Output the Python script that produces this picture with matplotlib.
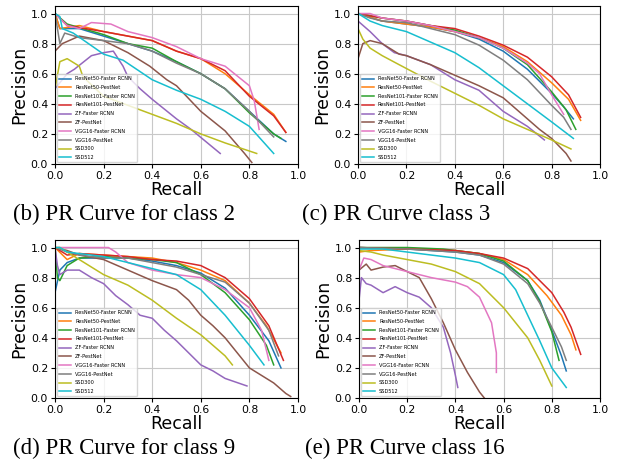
import matplotlib

matplotlib.use("Agg")
import matplotlib.pyplot as plt

METHODS = [
    "ResNet50-Faster RCNN",
    "ResNet50-PestNet",
    "ResNet101-Faster RCNN",
    "ResNet101-PestNet",
    "ZF-Faster RCNN",
    "ZF-PestNet",
    "VGG16-Faster RCNN",
    "VGG16-PestNet",
    "SSD300",
    "SSD512",
]

# class 2
CLASS2_RECALL = [
    [0.0, 0.02, 0.1, 0.2, 0.3, 0.4, 0.5, 0.6, 0.7, 0.8, 0.9, 0.95],
    [0.0, 0.02, 0.1, 0.2, 0.3, 0.4, 0.5, 0.6, 0.7, 0.8, 0.9, 0.95],
    [0.0, 0.05, 0.2, 0.3, 0.4, 0.5, 0.6, 0.7, 0.8, 0.9, 0.93],
    [0.0, 0.05, 0.2, 0.3, 0.4, 0.5, 0.6, 0.7, 0.8, 0.9, 0.95],
    [0.0, 0.05, 0.08, 0.15, 0.2, 0.24, 0.28, 0.3, 0.35, 0.4, 0.5, 0.56, 0.62, 0.68],
    [0.0, 0.03, 0.1, 0.2, 0.3, 0.39, 0.46, 0.5, 0.6, 0.7, 0.78, 0.81],
    [0.0, 0.05, 0.1, 0.15, 0.23, 0.3, 0.4, 0.5, 0.6, 0.7, 0.8, 0.82, 0.84],
    [0.0, 0.02, 0.04, 0.1, 0.2, 0.3, 0.4, 0.5, 0.6, 0.7, 0.8, 0.9],
    [0.0, 0.02, 0.05, 0.1, 0.115, 0.2, 0.3, 0.4, 0.5, 0.6, 0.7, 0.83],
    [0.0, 0.02, 0.03, 0.075, 0.12, 0.2, 0.28, 0.4, 0.5, 0.6, 0.7, 0.8, 0.9],
]
CLASS2_PRECISION = [
    [1.0, 0.9, 0.9, 0.85, 0.8, 0.75, 0.68, 0.6, 0.5, 0.35, 0.2, 0.15],
    [1.0, 0.9, 0.92, 0.88, 0.85, 0.82, 0.75, 0.7, 0.6, 0.46, 0.33, 0.21],
    [1.0, 0.93, 0.86, 0.8, 0.77, 0.68, 0.6, 0.5, 0.34, 0.2, 0.17],
    [1.0, 0.92, 0.88, 0.85, 0.82, 0.75, 0.7, 0.62, 0.45, 0.32, 0.21],
    [0.5, 0.6, 0.63, 0.72, 0.74, 0.75, 0.65, 0.58, 0.5, 0.43, 0.3, 0.23, 0.15, 0.07],
    [0.75, 0.8, 0.85, 0.82, 0.74, 0.65, 0.56, 0.52, 0.35, 0.22, 0.07, 0.01],
    [1.0, 0.92, 0.9, 0.94, 0.93, 0.88, 0.84, 0.78, 0.7, 0.65, 0.52, 0.42, 0.23],
    [1.0, 0.8, 0.87, 0.84, 0.82, 0.8, 0.75, 0.67, 0.6, 0.5, 0.35, 0.18],
    [0.5, 0.68, 0.7, 0.65, 0.58, 0.45, 0.39, 0.33, 0.27, 0.2, 0.14, 0.07],
    [1.0, 0.98, 0.9, 0.87, 0.82, 0.73, 0.69, 0.56, 0.49, 0.43, 0.35, 0.25, 0.07],
]

# class 3
CLASS3_RECALL = [
    [0.0, 0.1, 0.2, 0.3, 0.4, 0.5, 0.6, 0.7, 0.8, 0.85, 0.89],
    [0.0, 0.1, 0.2, 0.3, 0.4, 0.5, 0.6, 0.7, 0.8, 0.87, 0.92],
    [0.0, 0.1, 0.2, 0.3, 0.4, 0.5, 0.6, 0.7, 0.8, 0.86, 0.9],
    [0.0, 0.1, 0.2, 0.3, 0.4, 0.5, 0.6, 0.7, 0.8, 0.87, 0.92],
    [0.0, 0.05, 0.1, 0.15, 0.2, 0.3, 0.4, 0.5, 0.6, 0.7, 0.77],
    [0.0, 0.02, 0.05, 0.1, 0.17, 0.2, 0.3, 0.4, 0.5, 0.6, 0.75, 0.8, 0.86, 0.88],
    [0.0, 0.05, 0.1, 0.2, 0.3, 0.4, 0.5, 0.6, 0.7, 0.75, 0.8, 0.85],
    [0.0, 0.05, 0.1, 0.2, 0.3, 0.4, 0.5, 0.6, 0.7, 0.8, 0.85, 0.88],
    [0.0, 0.02, 0.05, 0.1, 0.17, 0.3, 0.4, 0.5, 0.6, 0.7, 0.8, 0.88],
    [0.0, 0.05, 0.1, 0.2, 0.3, 0.4, 0.5, 0.6, 0.7, 0.8, 0.89],
]
CLASS3_PRECISION = [
    [1.0, 0.95, 0.93, 0.91, 0.88, 0.83, 0.75, 0.63, 0.47, 0.38, 0.3],
    [1.0, 0.95, 0.93, 0.91, 0.88, 0.84, 0.78, 0.68, 0.54, 0.43, 0.29],
    [1.0, 0.97, 0.95, 0.92, 0.89, 0.84, 0.77, 0.66, 0.48, 0.36, 0.23],
    [1.0, 0.97, 0.95, 0.92, 0.9, 0.85, 0.79, 0.71, 0.58, 0.46, 0.31],
    [0.95, 0.88, 0.8, 0.74, 0.72, 0.66, 0.56, 0.49, 0.35, 0.25, 0.16],
    [0.7, 0.8, 0.82, 0.8, 0.73, 0.72, 0.66, 0.59, 0.52, 0.44, 0.23, 0.17, 0.07, 0.02],
    [1.0, 1.0, 0.97, 0.95, 0.92, 0.88, 0.84, 0.77, 0.67, 0.6, 0.46, 0.33],
    [1.0, 0.97, 0.95, 0.94, 0.9, 0.86, 0.79, 0.69, 0.56, 0.39, 0.31, 0.23],
    [0.9, 0.83, 0.77, 0.72, 0.66, 0.55, 0.47, 0.39, 0.3, 0.23, 0.16, 0.1],
    [1.0, 0.95, 0.92, 0.88, 0.81, 0.74, 0.64, 0.52, 0.4, 0.28, 0.17],
]

# class 9
CLASS9_RECALL = [
    [0.0, 0.02, 0.05, 0.1, 0.2, 0.3, 0.4, 0.5, 0.6, 0.7, 0.8, 0.88, 0.93],
    [0.0, 0.05, 0.1, 0.2, 0.3, 0.4, 0.5, 0.6, 0.7, 0.8, 0.87, 0.93],
    [0.0, 0.01, 0.02, 0.05, 0.1, 0.2, 0.3, 0.4, 0.5, 0.6, 0.7, 0.8, 0.87, 0.9],
    [0.0, 0.05, 0.1, 0.2, 0.3, 0.4, 0.5, 0.6, 0.7, 0.8, 0.88, 0.94],
    [0.0, 0.01, 0.02, 0.05, 0.1, 0.15, 0.2, 0.25, 0.3, 0.35, 0.4, 0.45, 0.5,
     0.55, 0.6, 0.65, 0.7, 0.79],
    [0.0, 0.05, 0.1, 0.2, 0.3, 0.4, 0.5, 0.55, 0.6, 0.65, 0.7, 0.75, 0.8, 0.85,
     0.9, 0.95, 0.97],
    [0.0, 0.1, 0.22, 0.25, 0.3, 0.4, 0.5, 0.6, 0.7, 0.8, 0.85, 0.88],
    [0.0, 0.05, 0.1, 0.2, 0.3, 0.4, 0.5, 0.6, 0.7, 0.8, 0.88, 0.92],
    [0.0, 0.02, 0.05, 0.1, 0.15, 0.2, 0.3, 0.4, 0.5, 0.6, 0.65, 0.7, 0.73],
    [0.0, 0.02, 0.05, 0.1, 0.2, 0.3, 0.4, 0.5, 0.6, 0.7, 0.75, 0.8, 0.86],
]
CLASS9_PRECISION = [
    [0.7, 0.85, 0.9, 0.93, 0.93, 0.93, 0.91, 0.88, 0.83, 0.73, 0.55, 0.38, 0.2],
    [1.0, 0.92, 0.96, 0.95, 0.94, 0.93, 0.9, 0.85, 0.78, 0.63, 0.48, 0.3],
    [1.0, 0.8, 0.78, 0.88, 0.93, 0.94, 0.93, 0.92, 0.9, 0.82, 0.7, 0.52, 0.35, 0.22],
    [1.0, 0.95, 0.96, 0.95, 0.94, 0.92, 0.91, 0.88, 0.8, 0.66, 0.48, 0.25],
    [1.0, 0.88, 0.82, 0.85, 0.85, 0.8, 0.76, 0.68, 0.62, 0.55, 0.53, 0.45, 0.38,
     0.3, 0.22, 0.18, 0.13, 0.08],
    [1.0, 0.98, 0.95, 0.92, 0.85, 0.78, 0.72, 0.65, 0.55, 0.48, 0.4, 0.3, 0.2,
     0.15, 0.1, 0.03, 0.01],
    [1.0, 1.0, 1.0, 0.97, 0.9, 0.85, 0.82, 0.8, 0.72, 0.6, 0.45, 0.25],
    [1.0, 0.97, 0.95, 0.93, 0.93, 0.9, 0.87, 0.82, 0.77, 0.63, 0.45, 0.28],
    [1.0, 1.0, 0.97, 0.92, 0.87, 0.82, 0.75, 0.65, 0.53, 0.42, 0.35, 0.28, 0.22],
    [1.0, 1.0, 0.97, 0.96, 0.94, 0.9, 0.86, 0.82, 0.72, 0.55, 0.45, 0.35, 0.22],
]

# class 16
CLASS16_RECALL = [
    [0.0, 0.2, 0.4, 0.5, 0.6, 0.7, 0.75, 0.8, 0.84, 0.86],
    [0.0, 0.05, 0.2, 0.4, 0.5, 0.6, 0.7, 0.78, 0.84, 0.88, 0.9],
    [0.0, 0.2, 0.35, 0.5, 0.6, 0.7, 0.75, 0.8, 0.83],
    [0.0, 0.2, 0.4, 0.5, 0.6, 0.7, 0.8, 0.85, 0.88, 0.92],
    [0.0, 0.01, 0.03, 0.05, 0.1, 0.15, 0.2, 0.25, 0.3, 0.35, 0.38, 0.4, 0.41],
    [0.0, 0.03, 0.05, 0.1, 0.15, 0.2, 0.25, 0.3, 0.35, 0.4, 0.45, 0.5, 0.52],
    [0.0, 0.02, 0.05, 0.1, 0.2, 0.3, 0.4, 0.45, 0.5, 0.55, 0.57, 0.57],
    [0.0, 0.2, 0.4, 0.5, 0.6, 0.7, 0.75, 0.8, 0.84, 0.86],
    [0.0, 0.05, 0.1, 0.2, 0.3, 0.4, 0.5, 0.6, 0.7, 0.75, 0.8],
    [0.0, 0.1, 0.2, 0.3, 0.4, 0.5, 0.6, 0.65, 0.7, 0.75, 0.8, 0.86],
]
CLASS16_PRECISION = [
    [1.0, 0.99, 0.97, 0.95, 0.9, 0.78, 0.65, 0.45, 0.28, 0.18],
    [0.97, 0.98, 0.99, 0.98, 0.96, 0.92, 0.82, 0.68, 0.55, 0.42, 0.32],
    [1.0, 1.0, 0.99, 0.96, 0.91, 0.78, 0.64, 0.44, 0.25],
    [1.0, 0.99, 0.98, 0.96, 0.93, 0.86, 0.7, 0.57, 0.47, 0.29],
    [0.65, 0.8, 0.76, 0.75, 0.7, 0.74, 0.7, 0.67, 0.6, 0.47, 0.3, 0.15, 0.07],
    [0.85, 0.89, 0.85, 0.87, 0.88, 0.84, 0.8, 0.66, 0.5, 0.32, 0.17, 0.04, 0.0],
    [0.85, 0.93, 0.92, 0.88, 0.84, 0.8, 0.77, 0.74, 0.67, 0.5, 0.3, 0.17],
    [1.0, 0.99, 0.97, 0.95, 0.89, 0.76, 0.63, 0.47, 0.34, 0.25],
    [0.98, 0.97, 0.95, 0.92, 0.89, 0.84, 0.76, 0.6, 0.4, 0.25, 0.08],
    [0.99, 0.99, 0.97, 0.95, 0.93, 0.9, 0.82, 0.72, 0.55, 0.38, 0.2, 0.07],
]

PANELS = [
    (CLASS2_RECALL, CLASS2_PRECISION, "(b) PR Curve for class 2"),
    (CLASS3_RECALL, CLASS3_PRECISION, "(c) PR Curve class 3"),
    (CLASS9_RECALL, CLASS9_PRECISION, "(d) PR Curve for class 9"),
    (CLASS16_RECALL, CLASS16_PRECISION, "(e) PR Curve class 16"),
]

W, H = 619, 470
# axes boxes in pixels: left, top, right, bottom
BOXES = [(55, 6, 298, 164), (358, 6, 600, 164), (55, 240, 298, 398), (359, 240, 600, 398)]
CAPTIONS_XY = [(13, 214), (302, 214), (13, 448), (305, 448)]

fig = plt.figure(figsize=(W / 100, H / 100), dpi=100)

for (recall, precision, caption), box, cxy in zip(PANELS, BOXES, CAPTIONS_XY):
    l, t, r, b = box
    ax = fig.add_axes([l / W, 1 - b / H, (r - l) / W, (b - t) / H])
    for name, rx, py in zip(METHODS, recall, precision):
        ax.plot(rx, py, lw=1.1, label=name)
    ax.set_xlim(0, 1.0)
    ax.set_ylim(0, 1.05)
    ax.set_xticks([0, 0.2, 0.4, 0.6, 0.8, 1.0])
    ax.set_yticks([0, 0.2, 0.4, 0.6, 0.8, 1.0])
    ax.tick_params(labelsize=7.8, length=3, pad=2)
    ax.grid(True, color="#c8c8c8", lw=0.8)
    ax.set_xlabel("Recall", fontsize=12.5, labelpad=0)
    ax.set_ylabel("Precision", fontsize=12.5, labelpad=2)
    ax.legend(loc="lower left", fontsize=3.6, handlelength=2.4,
              labelspacing=0.75, borderaxespad=0.4, framealpha=0.8)
    fig.text(cxy[0] / W, 1 - cxy[1] / H, caption, family="Liberation Serif",
             fontsize=16.5, ha="left", va="center")

fig.savefig("out.png", dpi=100)
